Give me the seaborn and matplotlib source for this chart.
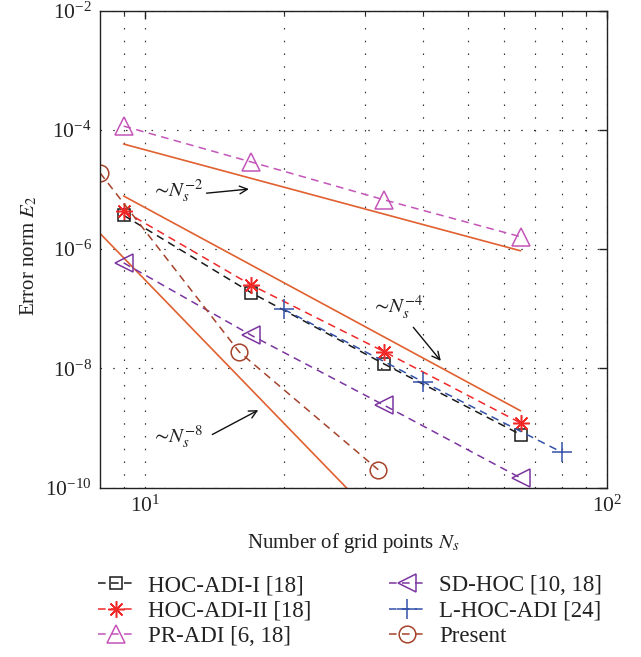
import numpy as np
import pandas as pd
import matplotlib
matplotlib.use("Agg")
import matplotlib.pyplot as plt
import matplotlib.ticker as mticker
import seaborn as sns

# ---- data ----
N_std = [9, 17, 33, 65]
hoc_adi_1 = [3.7e-6, 1.86e-7, 1.18e-8, 7.8e-10]
hoc_adi_2 = [4.4e-6, 2.5e-7, 1.9e-8, 1.22e-9]
pr_adi = [1.16e-4, 2.9e-5, 6.7e-6, 1.62e-6]
sd_hoc = [5.9e-7, 3.6e-8, 2.4e-9, 1.46e-10]
N_lhoc = [20, 40, 80]
l_hoc_adi = [9.8e-8, 5.96e-9, 3.9e-10]
N_present = [8, 16, 32]
present = [1.91e-5, 1.9e-8, 2.0e-10]

# reference slope lines (end points)
ref2_N = [9, 65]
ref2_E = [5.8e-5, 9.4e-7]
ref4_N = [9, 65]
ref4_E = [7.8e-6, 1.95e-9]
ref8_N = [8, 32]
ref8_E = [1.84e-6, 2.8e-11]

labels = ["HOC-ADI-I [18]", "HOC-ADI-II [18]", "PR-ADI [6, 18]",
          "SD-HOC [10, 18]", "L-HOC-ADI [24]", "Present"]

sns.set_style("white")
plt.rcParams["font.family"] = ["Liberation Serif", "DejaVu Serif"]
plt.rcParams["mathtext.fontset"] = "stix"
plt.rcParams["font.size"] = 15

fig = plt.figure(figsize=(6.41, 6.57), dpi=100)
ax = fig.add_axes([100 / 641, 1 - 487.7 / 657, 507 / 641, 477 / 657])

c_black = "#1a1a1a"
c_red = "#f02828"
c_mag = "#c455b8"
c_pur = "#7b35a0"
c_blue = "#3352a8"
c_brown = "#a5432b"
c_ref = "#e0602f"

series = [
    (N_std, hoc_adi_1, c_black, "s", 8),
    (N_std, hoc_adi_2, c_red, (8, 2, 0), 12),
    (N_std, pr_adi, c_mag, "^", 13),
    (N_std, sd_hoc, c_pur, "<", 13),
    (N_lhoc, l_hoc_adi, c_blue, "+", 14),
    (N_present, present, c_brown, "o", 12),
]

# reference lines first
for xs, ys in [(ref2_N, ref2_E), (ref4_N, ref4_E), (ref8_N, ref8_E)]:
    sns.lineplot(x=xs, y=ys, ax=ax, color=c_ref, lw=1.2, estimator=None,
                 sort=False, legend=False)

handles = []
for (xs, ys, col, mk, ms), lab in zip(series, labels):
    sns.lineplot(x=xs, y=ys, ax=ax, color=col, ls=(0, (5, 3.5)), lw=1.1,
                 marker=mk, markersize=ms, markerfacecolor="none",
                 markeredgecolor=col, markeredgewidth=1.1,
                 estimator=None, sort=False, legend=False)
    handles.append(ax.lines[-1])

if ax.get_legend() is not None:
    ax.get_legend().remove()

ax.set_xscale("log")
ax.set_yscale("log")
ax.set_xlim(8, 100)
ax.set_ylim(1e-10, 1e-2)

ax.yaxis.set_major_locator(mticker.FixedLocator([1e-10, 1e-8, 1e-6, 1e-4, 1e-2]))
ax.yaxis.set_minor_locator(mticker.NullLocator())
ax.yaxis.set_major_formatter(mticker.LogFormatterMathtext())
ax.xaxis.set_major_locator(mticker.FixedLocator([10, 100]))
ax.xaxis.set_minor_locator(mticker.FixedLocator([9, 20, 30, 40, 50, 60, 70, 80, 90]))
ax.xaxis.set_major_formatter(mticker.LogFormatterMathtext())
ax.xaxis.set_minor_formatter(mticker.NullFormatter())

ax.tick_params(which="both", direction="in", top=True, right=True,
               colors="#222222", labelcolor="#222222", labelsize=15.5)
ax.tick_params(which="major", length=6, width=1, pad=6)
ax.tick_params(which="minor", length=3, width=0.8)

grid_ls = (0, (1.3, 9.5))
ax.grid(which="major", axis="both", ls=grid_ls, color="#333333", lw=0.85)
ax.grid(which="minor", axis="x", ls=grid_ls, color="#333333", lw=0.85)
for sp in ax.spines.values():
    sp.set_color("#222222")
    sp.set_linewidth(1.0)

ax.set_xlabel("Number of grid points $N_s$", fontsize=15, color="#222222", labelpad=10)
ax.set_ylabel("Error norm $E_2$", fontsize=15, color="#222222")
ax.yaxis.set_label_coords(-0.12, 0.485)

arrow = dict(arrowstyle="->", color="#111111", lw=1.0, mutation_scale=14,
             shrinkA=0, shrinkB=0)
ax.annotate("", xy=(16.8, 1.02e-5), xytext=(13.6, 8.7e-6), arrowprops=arrow)
ax.text(13.4, 9.6e-6, r"$\sim\! N_s^{-2}$", ha="right", va="center",
        fontsize=15, color="#222222")
ax.annotate("", xy=(43.7, 1.34e-8), xytext=(38.1, 4.9e-8), arrowprops=arrow)
ax.text(35.2, 1.05e-7, r"$\sim\! N_s^{-4}$", ha="center", va="center",
        fontsize=15, color="#222222")
ax.annotate("", xy=(17.6, 2.0e-9), xytext=(14.0, 7.8e-10), arrowprops=arrow)
ax.text(13.4, 7.2e-10, r"$\sim\! N_s^{-8}$", ha="right", va="center",
        fontsize=15, color="#222222")

fig.legend(handles, labels, loc="upper left", bbox_to_anchor=(98 / 641, 1 - 575 / 657),
           ncol=2, frameon=False, fontsize=16.5, handlelength=1.6,
           handletextpad=0.6, columnspacing=3.35, labelspacing=0.2,
           borderpad=0, borderaxespad=0, numpoints=1, labelcolor="#222222")

fig.savefig("out.png", dpi=100)
